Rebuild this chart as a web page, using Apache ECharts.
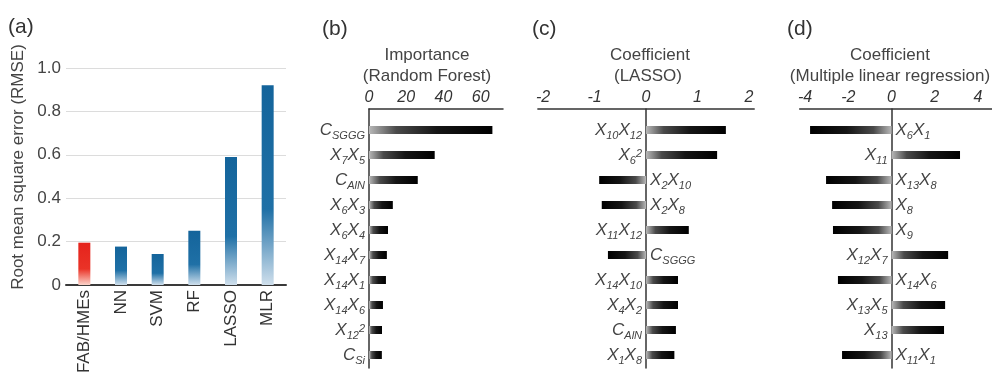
<!DOCTYPE html>
<html>
<head>
<meta charset="utf-8">
<script src="https://cdn.jsdelivr.net/npm/echarts@6/dist/echarts.min.js"></script>
<style>
  html, body { margin: 0; padding: 0; background: #fff; }
  #chart { width: 992px; height: 373px; }
</style>
</head>
<body>
<div id="chart"></div>
<script>
// (a) prediction error of each model
const modelNames = ['FAB/HMEs', 'NN', 'SVM', 'RF', 'LASSO', 'MLR'];
const rmseValues = [0.195, 0.177, 0.143, 0.25, 0.59, 0.92];

// (b) random forest feature importance
const rfFeatures = ['C_{SGGG}', 'X_{7}X_{5}', 'C_{AlN}', 'X_{6}X_{3}', 'X_{6}X_{4}',
                    'X_{14}X_{7}', 'X_{14}X_{1}', 'X_{14}X_{6}', 'X_{12}^{2}', 'C_{Si}'];
const rfImportance = [66.3, 35.3, 26.2, 12.8, 10.2, 9.6, 9.1, 7.5, 7.0, 6.9];

// (c) LASSO coefficients
const lassoFeatures = ['X_{10}X_{12}', 'X_{6}^{2}', 'X_{2}X_{10}', 'X_{2}X_{8}', 'X_{11}X_{12}',
                       'C_{SGGG}', 'X_{14}X_{10}', 'X_{4}X_{2}', 'C_{AlN}', 'X_{1}X_{8}'];
const lassoCoef = [1.55, 1.38, -0.91, -0.86, 0.83, -0.74, 0.62, 0.62, 0.58, 0.55];

// (d) multiple linear regression coefficients
const mlrFeatures = ['X_{6}X_{1}', 'X_{11}', 'X_{13}X_{8}', 'X_{8}', 'X_{9}',
                     'X_{12}X_{7}', 'X_{14}X_{6}', 'X_{13}X_{5}', 'X_{13}', 'X_{11}X_{1}'];
const mlrCoef = [-3.77, 3.17, -3.03, -2.75, -2.71, 2.62, -2.48, 2.48, 2.43, -2.29];

const FONT = 'Arial, "Liberation Sans", Helvetica, sans-serif';
const TEXT = '#444';

// turn "X_{10}X_{12}" / "X_{6}^{2}" into rich-text tokens
function toRich(name) {
  let out = '';
  let i = 0;
  const isMark = k => (name[k] === '_' || name[k] === '^') && name[k + 1] === '{';
  while (i < name.length) {
    if (isMark(i)) {
      const end = name.indexOf('}', i);
      out += '{' + (name[i] === '_' ? 's' : 'p') + '|' + name.slice(i + 2, end) + '}';
      i = end + 1;
    } else {
      let j = i;
      while (j < name.length && !isMark(j)) j++;
      out += '{x|' + name.slice(i, j) + '}';
      i = j;
    }
  }
  return out;
}

const richStyles = {
  x: { fontSize: 17, fontStyle: 'italic', fontFamily: FONT, color: TEXT, lineHeight: 22, verticalAlign: 'middle' },
  s: { fontSize: 11, fontStyle: 'italic', fontFamily: FONT, color: TEXT, lineHeight: 12, verticalAlign: 'bottom' },
  p: { fontSize: 11, fontStyle: 'italic', fontFamily: FONT, color: TEXT, lineHeight: 11, verticalAlign: 'top', padding: [4, 0, 0, 0] }
};

function barShade(v) {
  const light = '#b8b8b8', dark = '#000';
  const stops = v >= 0
    ? [{ offset: 0, color: light }, { offset: 0.22, color: '#4a4a4a' }, { offset: 0.55, color: '#151515' }, { offset: 1, color: dark }]
    : [{ offset: 0, color: dark }, { offset: 0.45, color: '#151515' }, { offset: 0.78, color: '#4a4a4a' }, { offset: 1, color: light }];
  return new echarts.graphic.LinearGradient(0, 0, 1, 0, stops);
}

function columnShade(i) {
  const stops = i === 0
    ? [{ offset: 0, color: '#e5231c' }, { offset: 0.62, color: '#ea3327' }, { offset: 1, color: '#fbd3c9' }]
    : [{ offset: 0, color: '#14649b' }, { offset: 0.62, color: '#1f70a6' }, { offset: 1, color: '#cfdfec' }];
  return new echarts.graphic.LinearGradient(0, 0, 0, 1, stops);
}

const grids = [{ left: 66, top: 68, width: 220, height: 217, outerBoundsMode: 'none' }];
const xAxes = [{
  gridIndex: 0, type: 'category', data: modelNames,
  axisLine: { lineStyle: { color: '#3a3a3a', width: 2 } },
  axisTick: { show: false },
  axisLabel: { rotate: 90, fontSize: 17, color: '#333', margin: 5, fontFamily: FONT }
}];
const yAxes = [{
  gridIndex: 0, type: 'value', min: 0, max: 1, interval: 0.2,
  axisLine: { show: false }, axisTick: { show: false },
  splitLine: { lineStyle: { color: '#dcdcdc', width: 1 } },
  axisLabel: { fontSize: 17, color: TEXT, margin: 5, fontFamily: FONT,
               formatter: v => (v === 0 ? '0' : v.toFixed(1)) }
}];
const series = [{
  type: 'bar', xAxisIndex: 0, yAxisIndex: 0, barWidth: 12,
  data: rmseValues.map((v, i) => ({ value: v, itemStyle: { color: columnShade(i) } }))
}];

// horizontal bar panel: one grid for the axes frame, one for the bar rows
function addPanel(box, range, features, values) {
  const g = grids.length;
  grids.push({ left: box.left, width: box.width, top: 109, height: 259, outerBoundsMode: 'none' });
  grids.push({ left: box.left, width: box.width, top: 117.5, height: 250, outerBoundsMode: 'none' });
  const xa = xAxes.length;
  xAxes.push({
    gridIndex: g, type: 'value', position: 'top',
    min: range.min, max: range.max, interval: range.interval,
    axisLine: { onZero: false, lineStyle: { color: '#333', width: 1.5 } },
    axisTick: { show: false }, splitLine: { show: false },
    axisLabel: {
      interval: 0, margin: 3, fontSize: 16, fontStyle: 'italic', color: '#333', fontFamily: FONT,
      formatter: v => {
        const k = Math.round(v / range.step);
        return Math.abs(v - k * range.step) < 1e-6 && k * range.step <= range.lastLabel ? String(k * range.step) : '';
      }
    }
  });
  xAxes.push({ gridIndex: g + 1, type: 'value', min: range.min, max: range.max, show: false });
  const ya = yAxes.length;
  yAxes.push({
    gridIndex: g, type: 'value', min: 0, max: 1,
    axisLine: { show: true, onZero: true, lineStyle: { color: '#333', width: 1.5 } },
    axisTick: { show: false }, axisLabel: { show: false }, splitLine: { show: false }
  });
  yAxes.push({ gridIndex: g + 1, type: 'category', inverse: true, data: features, show: false });
  series.push({
    type: 'bar', xAxisIndex: xa + 1, yAxisIndex: ya + 1, barWidth: 8,
    label: { show: true, distance: 4, formatter: p => toRich(p.name), rich: richStyles },
    data: values.map(v => ({
      value: v,
      itemStyle: { color: barShade(v) },
      label: { position: v >= 0 ? 'left' : 'right' }
    }))
  });
}

addPanel({ left: 369, width: 134 }, { min: 0, max: 72, interval: 20, step: 20, lastLabel: 60 }, rfFeatures, rfImportance);
addPanel({ left: 537.9, width: 216.3 }, { min: -2.1, max: 2.1, interval: 0.1, step: 1, lastLabel: 2 }, lassoFeatures, lassoCoef);
addPanel({ left: 799.7, width: 192.3 }, { min: -4.25, max: 4.65, interval: 0.25, step: 2, lastLabel: 4 }, mlrFeatures, mlrCoef);

function label(text, x, y, size, extra) {
  return Object.assign({
    type: 'text', x: x, y: y, silent: true,
    style: { text: text, fontSize: size, fontFamily: FONT, fill: TEXT, align: 'center', verticalAlign: 'middle' }
  }, extra || {});
}

function panelTag(text, x, y) {
  return {
    type: 'text', x: x, y: y, silent: true,
    style: { text: text, fontSize: 21, fontFamily: FONT, fill: '#333', align: 'left', verticalAlign: 'middle' }
  };
}

const graphics = [
  panelTag('(a)', 8, 27),
  panelTag('(b)', 322, 29),
  panelTag('(c)', 532, 29),
  panelTag('(d)', 787, 29),
  label('Root mean square error (RMSE)', 18, 167, 17, { rotation: Math.PI / 2 }),
  label('Importance', 427, 55, 17),
  label('(Random Forest)', 427, 76, 17),
  label('Coefficient', 650, 55, 17),
  label('(LASSO)', 648, 76, 17),
  label('Coefficient', 890, 55, 17),
  label('(Multiple linear regression)', 890, 76, 17)
];

const chart = echarts.init(document.getElementById('chart'), null, { renderer: 'canvas' });
chart.setOption({
  animation: false,
  backgroundColor: '#fff',
  grid: grids,
  xAxis: xAxes,
  yAxis: yAxes,
  series: series,
  graphic: graphics
});
</script>
</body>
</html>
